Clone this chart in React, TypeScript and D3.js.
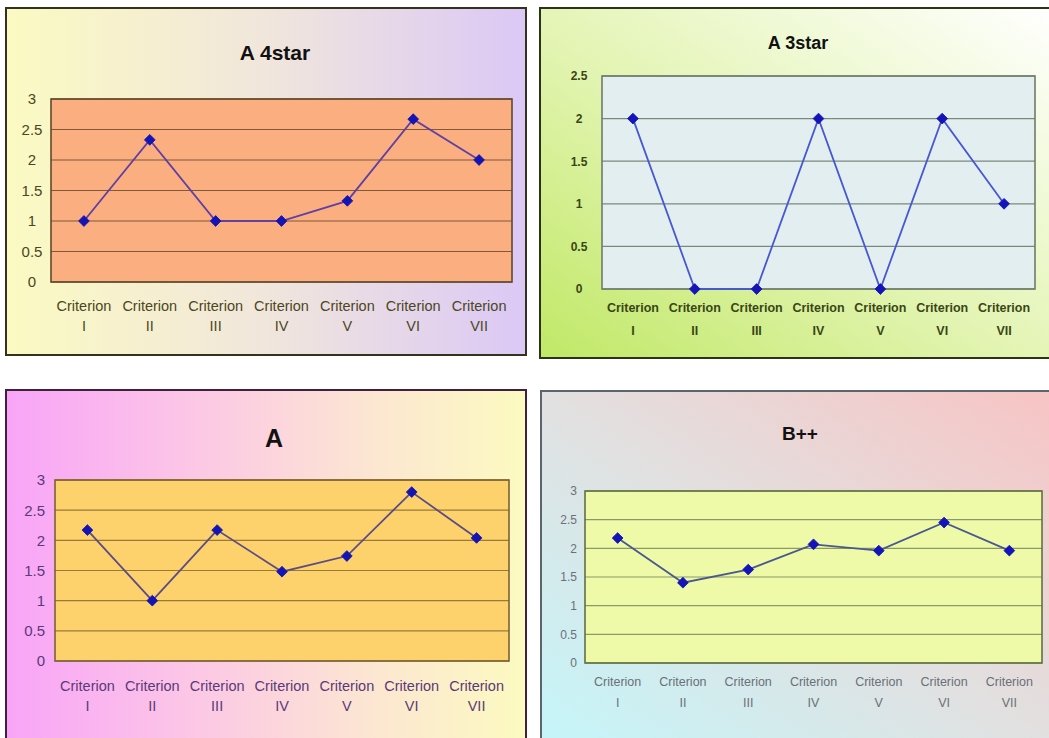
import React from "react";
import * as d3 from "d3";

// ---- data ----
const categories = ["I", "II", "III", "IV", "V", "VI", "VII"];
const categoryPrefix = "Criterion";

const titles = ["A 4star", "A 3star", "A", "B++"];

const seriesA4star = [1, 2.33, 1, 1, 1.33, 2.67, 2];
const seriesA3star = [2, 0, 0, 2, 0, 2, 1];
const seriesA = [2.17, 1, 2.17, 1.48, 1.74, 2.8, 2.04];
const seriesBpp = [2.18, 1.4, 1.63, 2.07, 1.96, 2.45, 1.96];

const ticksTo3 = [0, 0.5, 1, 1.5, 2, 2.5, 3];
const ticksTo25 = [0, 0.5, 1, 1.5, 2, 2.5];

// ---- panel styles / layout ----
type Panel = {
  id: string;
  title: string;
  values: number[];
  ticks: number[];
  frame: { x: number; y: number; w: number; h: number };
  frameStroke: string;
  bg: { x1: number; y1: number; x2: number; y2: number; stops: [number, string][] };
  plot: { x0: number; x1: number; y0: number; y1: number };
  plotFill: string;
  plotStroke: string;
  grid: string;
  line: string;
  marker: string;
  title_: { x: number; y: number; size: number; color: string };
  xl: { y1: number; y2: number; size: number; weight: string; color: string };
  yl: { x: number; anchor: string; size: number; weight: string; color: string };
};

const FONT = "'Liberation Sans', Arial, Helvetica, sans-serif";

const panels: Panel[] = [
  {
    id: "p1",
    title: titles[0],
    values: seriesA4star,
    ticks: ticksTo3,
    frame: { x: 6, y: 8, w: 520, h: 347 },
    frameStroke: "#34321c",
    bg: { x1: 0, y1: 0, x2: 1, y2: 0, stops: [[0, "#fbfac2"], [0.5, "#f1e6dc"], [1, "#dbc8f6"]] },
    plot: { x0: 51, x1: 512, y0: 99, y1: 282 },
    plotFill: "#fbae80",
    plotStroke: "#5e4a2c",
    grid: "#7e5838",
    line: "#6040a0",
    marker: "#1414b4",
    title_: { x: 275, y: 52, size: 21, color: "#111" },
    xl: { y1: 306, y2: 326, size: 14.5, weight: "normal", color: "#4a4722" },
    yl: { x: 32, anchor: "middle", size: 15, weight: "normal", color: "#4a4722" },
  },
  {
    id: "p2",
    title: titles[1],
    values: seriesA3star,
    ticks: ticksTo25,
    frame: { x: 540, y: 8, w: 514, h: 350 },
    frameStroke: "#2c3418",
    bg: { x1: 0, y1: 1, x2: 1, y2: 0, stops: [[0, "#c0e866"], [0.45, "#e2f4b0"], [1, "#ffffff"]] },
    plot: { x0: 602, x1: 1035, y0: 76, y1: 289 },
    plotFill: "#e3eef0",
    plotStroke: "#6e7c6a",
    grid: "#7b887c",
    line: "#4858d0",
    marker: "#1414b8",
    title_: { x: 798, y: 43, size: 18, color: "#111" },
    xl: { y1: 307, y2: 330, size: 12.5, weight: "bold", color: "#3a4616" },
    yl: { x: 579, anchor: "middle", size: 12, weight: "bold", color: "#3a4616" },
  },
  {
    id: "p3",
    title: titles[2],
    values: seriesA,
    ticks: ticksTo3,
    frame: { x: 6, y: 390, w: 520, h: 356 },
    frameStroke: "#40203e",
    bg: { x1: 0, y1: 0, x2: 1, y2: 0, stops: [[0, "#f8a4f8"], [0.35, "#fcc6e6"], [0.7, "#fce6d2"], [1, "#fcfac0"]] },
    plot: { x0: 55, x1: 509, y0: 480, y1: 661 },
    plotFill: "#fdd16c",
    plotStroke: "#7a6236",
    grid: "#9a7a38",
    line: "#5c4c84",
    marker: "#1414b4",
    title_: { x: 274, y: 438, size: 25, color: "#111" },
    xl: { y1: 686, y2: 706, size: 14.5, weight: "normal", color: "#5a3a78" },
    yl: { x: 45, anchor: "end", size: 15, weight: "normal", color: "#5a3a78" },
  },
  {
    id: "p4",
    title: titles[3],
    values: seriesBpp,
    ticks: ticksTo3,
    frame: { x: 541, y: 391, w: 514, h: 356 },
    frameStroke: "#5c646c",
    bg: { x1: 0, y1: 1, x2: 1, y2: 0, stops: [[0, "#c4f6fa"], [0.5, "#e2e0e0"], [1, "#f8c4c4"]] },
    plot: { x0: 585, x1: 1042, y0: 491, y1: 663 },
    plotFill: "#eefaa8",
    plotStroke: "#627044",
    grid: "#8a9a66",
    line: "#4a5890",
    marker: "#1414b8",
    title_: { x: 800, y: 433, size: 19, color: "#111" },
    xl: { y1: 681, y2: 702, size: 12.5, weight: "normal", color: "#6a7078" },
    yl: { x: 577, anchor: "end", size: 12, weight: "normal", color: "#6a7078" },
  },
];

function ChartPanel({ p }: { p: Panel }) {
  const yMax = p.ticks[p.ticks.length - 1];
  const x = d3.scalePoint<string>().domain(categories).range([p.plot.x0, p.plot.x1]).padding(0.5);
  const y = d3.scaleLinear().domain([0, yMax]).range([p.plot.y1, p.plot.y0]);
  const pts = p.values.map((v, i) => [x(categories[i]) as number, y(v)] as [number, number]);
  const linePath = d3.line()(pts) || "";
  const marker = d3.symbol().type(d3.symbolSquare).size(58)() || "";
  const gid = `bg-${p.id}`;
  return (
    <g>
      <defs>
        <linearGradient id={gid} x1={p.bg.x1} y1={p.bg.y1} x2={p.bg.x2} y2={p.bg.y2}>
          {p.bg.stops.map(([o, c], i) => (
            <stop key={i} offset={o} stopColor={c} />
          ))}
        </linearGradient>
      </defs>
      <rect
        x={p.frame.x}
        y={p.frame.y}
        width={p.frame.w}
        height={p.frame.h}
        fill={`url(#${gid})`}
        stroke={p.frameStroke}
        strokeWidth={2}
      />
      <text
        x={p.title_.x}
        y={p.title_.y}
        dy="0.36em"
        textAnchor="middle"
        fontFamily={FONT}
        fontWeight="bold"
        fontSize={p.title_.size}
        fill={p.title_.color}
      >
        {p.title}
      </text>
      <rect
        x={p.plot.x0}
        y={p.plot.y0}
        width={p.plot.x1 - p.plot.x0}
        height={p.plot.y1 - p.plot.y0}
        fill={p.plotFill}
      />
      {p.ticks.map((t) => (
        <line
          key={`g${t}`}
          x1={p.plot.x0}
          x2={p.plot.x1}
          y1={y(t)}
          y2={y(t)}
          stroke={p.grid}
          strokeWidth={1.2}
        />
      ))}
      <rect
        x={p.plot.x0}
        y={p.plot.y0}
        width={p.plot.x1 - p.plot.x0}
        height={p.plot.y1 - p.plot.y0}
        fill="none"
        stroke={p.plotStroke}
        strokeWidth={1.6}
      />
      {p.ticks.map((t) => (
        <text
          key={`yl${t}`}
          x={p.yl.x}
          y={y(t)}
          dy="0.36em"
          textAnchor={p.yl.anchor}
          fontFamily={FONT}
          fontSize={p.yl.size}
          fontWeight={p.yl.weight}
          fill={p.yl.color}
        >
          {t}
        </text>
      ))}
      {categories.map((c) => (
        <g key={`xl${c}`}>
          <text
            x={x(c)}
            y={p.xl.y1}
            dy="0.36em"
            textAnchor="middle"
            fontFamily={FONT}
            fontSize={p.xl.size}
            fontWeight={p.xl.weight}
            fill={p.xl.color}
          >
            {categoryPrefix}
          </text>
          <text
            x={x(c)}
            y={p.xl.y2}
            dy="0.36em"
            textAnchor="middle"
            fontFamily={FONT}
            fontSize={p.xl.size}
            fontWeight={p.xl.weight}
            fill={p.xl.color}
          >
            {c}
          </text>
        </g>
      ))}
      <path d={linePath} fill="none" stroke={p.line} strokeWidth={1.8} />
      {pts.map(([px, py], i) => (
        <path
          key={`m${i}`}
          d={marker}
          transform={`translate(${px},${py}) rotate(45)`}
          fill={p.marker}
          stroke={p.marker}
          strokeWidth={0.8}
        />
      ))}
    </g>
  );
}

export default function App() {
  return (
    <svg
      width={1049}
      height={738}
      style={{ position: "absolute", left: 0, top: 0, background: "#ffffff" }}
    >
      <rect x={0} y={0} width={1049} height={738} fill="#ffffff" />
      {panels.map((p) => (
        <ChartPanel key={p.id} p={p} />
      ))}
    </svg>
  );
}
